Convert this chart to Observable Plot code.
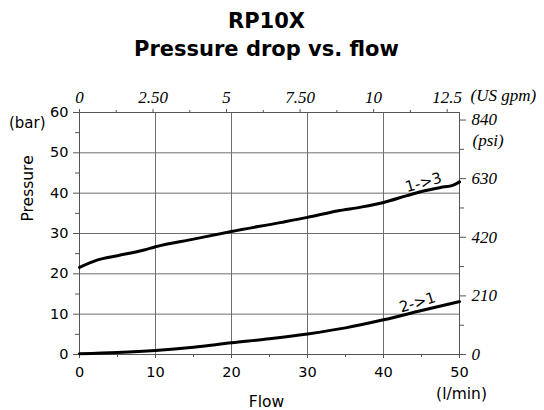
<!DOCTYPE html>
<html><head><meta charset="utf-8">
<script src="https://cdn.jsdelivr.net/npm/d3@7"></script>
<script src="https://cdn.jsdelivr.net/npm/@observablehq/plot@0.6"></script>
<style>body{margin:0;background:#fff}</style>
</head><body><div id="chart"></div>
<script>
// Curve 1->3 (l/min, bar)
const flow13 = [0, 2.3, 5, 8.5, 10, 15, 20, 26.4, 30, 33.9, 37.2, 40, 43.1, 45, 47.5, 49.2, 50];
const pressure13 = [21.6, 23.4, 24.5, 25.9, 26.7, 28.6, 30.5, 32.7, 34.0, 35.6, 36.6, 37.7, 39.4, 40.4, 41.4, 42.0, 42.8];
// Curve 2->1
const flow21 = [0, 5, 10, 15, 20, 25, 30, 35, 40, 45, 50];
const pressure21 = [0.2, 0.5, 1.0, 1.8, 2.9, 3.9, 5.1, 6.6, 8.6, 10.9, 13.1];
const curveNames = ["1->3", "2->1"];
const labelFlow = 45;

const barTicks = [0, 10, 20, 30, 40, 50, 60];
const barMinor = [5, 15, 25, 35, 45, 55];
const barGrid = [10, 20, 30, 40, 50];
const flowTicks = [0, 10, 20, 30, 40, 50];
const flowMinor = [5, 15, 25, 35, 45];
const flowGrid = [10, 20, 30, 40];
const psiTicks = [0, 210, 420, 630, 840];
const psiMinor = [105, 315, 525, 735];
const gpmTicks = [0, 2.5, 5, 7.5, 10, 12.5];
const gpmLabels = ["0", "2.50", "5", "7.50", "10", "12.5"];
const gpmMinor = [1.25, 3.75, 6.25, 8.75, 11.25];
const PSI_PER_BAR = 14.45;
const LPM_PER_GPM = 3.87;

const line13 = flow13.map((f, i) => ({flow: f, p: pressure13[i]}));
const line21 = flow21.map((f, i) => ({flow: f, p: pressure21[i]}));
const sans = "DejaVu Sans, Verdana, sans-serif";
const serif = "Liberation Serif, Times New Roman, serif";
const axisCol = "#555";
const gridCol = "#6e6e6e";
const blank = () => "";

const chart = Plot.plot({
  width: 544, height: 410,
  marginTop: 112, marginLeft: 79, marginRight: 85, marginBottom: 56,
  x: {domain: [0, 50], label: null},
  y: {domain: [0, 60], label: null},
  style: {fontFamily: sans, fontSize: "14px", color: "#000", background: "#fff"},
  marks: [
    Plot.gridX(flowGrid, {stroke: gridCol, strokeOpacity: 1}),
    Plot.gridY(barGrid, {stroke: gridCol, strokeOpacity: 1}),
    Plot.frame({stroke: axisCol}),
    // left axis
    Plot.axisY(barTicks, {anchor: "left", tickSize: 6, tickPadding: 5, fontSize: 14.5, stroke: axisCol, fill: "#000", label: null}),
    Plot.axisY(barMinor, {anchor: "left", tickSize: 4, tickFormat: blank, stroke: axisCol, label: null}),
    // bottom axis
    Plot.axisX(flowTicks, {anchor: "bottom", tickSize: 4, tickPadding: 8, fontSize: 14.5, stroke: axisCol, fill: "#000", label: null}),
    Plot.axisX(flowMinor, {anchor: "bottom", tickSize: 3, tickFormat: blank, stroke: axisCol, label: null}),
    // right axis (psi)
    Plot.axisY(psiTicks.map(v => v / PSI_PER_BAR), {anchor: "right", tickSize: 6, tickPadding: 6,
      tickFormat: v => String(Math.round(v * PSI_PER_BAR)),
      fontFamily: serif, fontStyle: "italic", fontSize: 17, stroke: axisCol, fill: "#000", label: null}),
    Plot.axisY(psiMinor.map(v => v / PSI_PER_BAR), {anchor: "right", tickSize: 4, tickFormat: blank, stroke: axisCol, label: null}),
    // top axis (US gpm)
    Plot.axisX(gpmTicks.map(g => g * LPM_PER_GPM), {anchor: "top", tickSize: 4, tickPadding: 6,
      tickFormat: v => gpmLabels[gpmTicks.findIndex(g => Math.abs(g * LPM_PER_GPM - v) < 1e-6)],
      fontFamily: serif, fontStyle: "italic", fontSize: 17, stroke: axisCol, fill: "#000", label: null}),
    Plot.axisX(gpmMinor.map(g => g * LPM_PER_GPM), {anchor: "top", tickSize: 3, tickFormat: blank, stroke: axisCol, label: null}),
    // curves
    Plot.line(line13, {x: "flow", y: "p", stroke: "#000", strokeWidth: 3, curve: "monotone-x"}),
    Plot.line(line21, {x: "flow", y: "p", stroke: "#000", strokeWidth: 3, curve: "monotone-x"}),
    Plot.text(line13.filter(d => d.flow === labelFlow), {x: "flow", y: "p", text: () => curveNames[0], rotate: -16, dx: 2, dy: -9, fontSize: 15, fontFamily: sans}),
    Plot.text(line21.filter(d => d.flow === labelFlow), {x: "flow", y: "p", text: () => curveNames[1], rotate: -17, dx: -4, dy: -8, fontSize: 15, fontFamily: sans}),
    // units and axis titles
    Plot.text(["(bar)"], {frameAnchor: "top-left", lineAnchor: "middle", textAnchor: "end", dx: -34, dy: 11, fontSize: 15}),
    Plot.text(["(psi)"], {frameAnchor: "top-right", lineAnchor: "middle", textAnchor: "start", dx: 13, dy: 28, fontSize: 17, fontFamily: serif, fontStyle: "italic"}),
    Plot.text(["(US gpm)"], {frameAnchor: "top-right", lineAnchor: "middle", textAnchor: "start", dx: 11, dy: -17, fontSize: 17, fontFamily: serif, fontStyle: "italic"}),
    Plot.text(["(l/min)"], {frameAnchor: "bottom-right", lineAnchor: "middle", textAnchor: "middle", dx: 2, dy: 40, fontSize: 15.5}),
    Plot.text(["Flow"], {frameAnchor: "bottom", lineAnchor: "middle", dx: -3, dy: 48, fontSize: 15.5}),
    Plot.text(["Pressure"], {frameAnchor: "left", lineAnchor: "middle", rotate: -90, dx: -51, dy: -12, fontSize: 15.5}),
    // title
    Plot.text(["RP10X"], {frameAnchor: "top", lineAnchor: "middle", dx: -3, dy: -91, fontSize: 21, fontWeight: "bold"}),
    Plot.text(["Pressure drop vs. flow"], {frameAnchor: "top", lineAnchor: "middle", dx: -3, dy: -63, fontSize: 21, fontWeight: "bold"})
  ]
});
document.getElementById("chart").append(chart);
</script>
</body></html>
